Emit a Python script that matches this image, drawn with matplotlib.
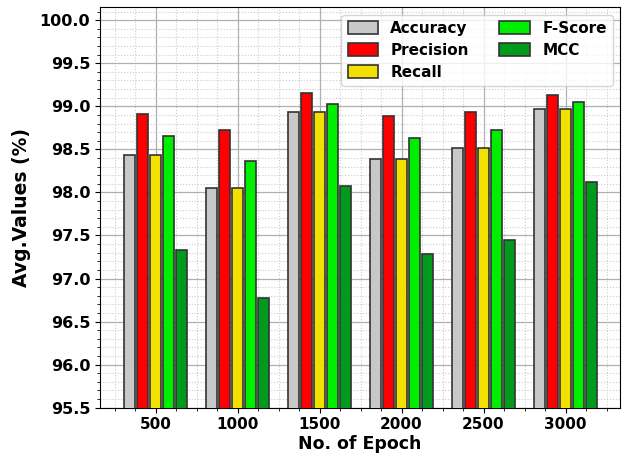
import numpy as np
import matplotlib.pyplot as plt
from matplotlib.ticker import MultipleLocator

# 数据
epochs = ['500', '1000', '1500', '2000', '2500', '3000']
accuracy = [98.43, 98.05, 98.93, 98.39, 98.52, 98.97]
precision = [98.91, 98.73, 99.15, 98.89, 98.93, 99.13]
recall = [98.43, 98.05, 98.93, 98.39, 98.52, 98.97]
fscore = [98.66, 98.37, 99.03, 98.63, 98.73, 99.05]
mcc = [97.33, 96.77, 98.08, 97.28, 97.45, 98.12]

series = [('Accuracy', accuracy, '#c8c8c8'),
          ('Precision', precision, '#ff0000'),
          ('Recall', recall, '#f2e100'),
          ('F-Score', fscore, '#00ee00'),
          ('MCC', mcc, '#009a1c')]

fig = plt.figure(figsize=(6.28, 4.57), dpi=100)
ax = fig.add_axes([0.159, 0.108, 0.829, 0.876])

x = np.arange(len(epochs))
step = 0.16
width = 0.135
for i, (name, vals, color) in enumerate(series):
    ax.bar(x + (i - 2) * step, vals, width, color=color, edgecolor='#333333',
           linewidth=1.2, label=name, zorder=3)

ax.set_xlim(-0.68, 5.67)
ax.set_ylim(95.5, 100.15)
ax.set_xticks(x)
ax.set_xticklabels(epochs)
ax.xaxis.set_minor_locator(MultipleLocator(0.25))
ax.yaxis.set_major_locator(MultipleLocator(0.5))
ax.yaxis.set_minor_locator(MultipleLocator(0.1))

ax.grid(which='major', color='#b0b0b0', linestyle='-', linewidth=0.9, zorder=0)
ax.grid(which='minor', color='#cccccc', linestyle=':', linewidth=0.8, zorder=0)

for lab in ax.get_xticklabels():
    lab.set_fontweight('bold')
    lab.set_fontsize(11)
for lab in ax.get_yticklabels():
    lab.set_fontweight('bold')
    lab.set_fontsize(11.5)

ax.set_xlabel('No. of Epoch', fontsize=12.5, fontweight='bold', labelpad=2)
ax.set_ylabel('Avg.Values (%)', fontsize=13.5, fontweight='bold', labelpad=6)

ax.legend(loc='upper right', ncol=2, prop={'weight': 'bold', 'size': 11},
          handlelength=2.0, handleheight=0.9, columnspacing=2.0,
          borderaxespad=0.5, labelspacing=0.45)

fig.savefig('out.png', dpi=100)
